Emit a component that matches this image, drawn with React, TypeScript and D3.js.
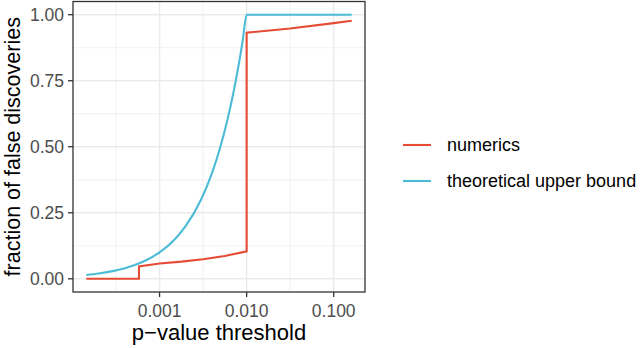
import React from 'react';
import * as d3 from 'd3';

const width = 640;
const height = 348;
const panel = { left: 73, top: 1.5, right: 365, bottom: 292 };

// p-value thresholds and fractions
const numericsP = [0.000144, 0.00058, 0.00058, 0.001, 0.00178, 0.00316, 0.0056, 0.01, 0.01, 0.0316, 0.1, 0.161];
const numericsV = [0, 0, 0.047, 0.058, 0.065, 0.074, 0.086, 0.104, 0.932, 0.948, 0.968, 0.977];

const boundP = [0.000144, 0.0002, 0.0003, 0.0004, 0.0005, 0.0007, 0.001, 0.0015, 0.002, 0.003, 0.004, 0.005, 0.006, 0.007, 0.008, 0.009, 0.01, 0.161];
const boundV = [0.0144, 0.02, 0.03, 0.04, 0.05, 0.07, 0.1, 0.15, 0.2, 0.3, 0.4, 0.5, 0.6, 0.7, 0.8, 0.9, 1, 1];

const seriesNames = ['numerics', 'theoretical upper bound'];
const colors = ['#E64B35', '#4DBBD5'];

const xTicks = [0.001, 0.01, 0.1];
const xTickLabels = ['0.001', '0.010', '0.100'];
const xMinor = [0.000316, 0.00316, 0.0316];
const yTicks = [0, 0.25, 0.5, 0.75, 1];
const yTickLabels = ['0.00', '0.25', '0.50', '0.75', '1.00'];
const yMinor = [0.125, 0.375, 0.625, 0.875];

const font = '"Liberation Sans", Arial, sans-serif';

const pw = panel.right - panel.left;
const ph = panel.bottom - panel.top;
const xPad = (pw * 0.05) / 1.1;
const yPad = (ph * 0.05) / 1.1;

const x = d3
  .scaleLog()
  .domain([0.000144, 0.161])
  .range([panel.left + xPad, panel.right - xPad]);

const y = d3
  .scaleLinear()
  .domain([0, 1])
  .range([panel.bottom - yPad, panel.top + yPad]);

const line = d3
  .line<[number, number]>()
  .x(d => x(d[0]))
  .y(d => y(d[1]));

const smooth = d3
  .line<[number, number]>()
  .x(d => x(d[0]))
  .y(d => y(d[1]))
  .curve(d3.curveMonotoneX);

const numerics = numericsP.map((p, i) => [p, numericsV[i]] as [number, number]);
const bound = boundP.map((p, i) => [p, boundV[i]] as [number, number]);

const App = () => {
  return (
    <svg width={width} height={height} style={{ display: 'block', position: 'absolute', left: 0, top: 0 }}>
      <rect x={0} y={0} width={width} height={height} fill="#fff" />
      {/* grid */}
      {yMinor.map(v => (
        <line key={'ym' + v} x1={panel.left} x2={panel.right} y1={y(v)} y2={y(v)} stroke="#EBEBEB" strokeWidth={0.7} />
      ))}
      {xMinor.map(v => (
        <line key={'xm' + v} x1={x(v)} x2={x(v)} y1={panel.top} y2={panel.bottom} stroke="#EBEBEB" strokeWidth={0.7} />
      ))}
      {yTicks.map(v => (
        <line key={'yg' + v} x1={panel.left} x2={panel.right} y1={y(v)} y2={y(v)} stroke="#EBEBEB" strokeWidth={1.4} />
      ))}
      {xTicks.map(v => (
        <line key={'xg' + v} x1={x(v)} x2={x(v)} y1={panel.top} y2={panel.bottom} stroke="#EBEBEB" strokeWidth={1.4} />
      ))}

      {/* data */}
      <path d={smooth(bound) || ''} fill="none" stroke={colors[1]} strokeWidth={2.1} />
      <path d={line(numerics) || ''} fill="none" stroke={colors[0]} strokeWidth={2.1} />

      {/* border */}
      <rect x={panel.left} y={panel.top} width={pw} height={ph} fill="none" stroke="#333333" strokeWidth={1.3} />

      {/* y axis */}
      {yTicks.map((v, i) => (
        <g key={'yt' + v}>
          <line x1={panel.left - 5} x2={panel.left} y1={y(v)} y2={y(v)} stroke="#333333" strokeWidth={1.3} />
          <text x={panel.left - 9} y={y(v)} dy="0.36em" textAnchor="end" fontFamily={font} fontSize={17.5} fill="#4D4D4D">
            {yTickLabels[i]}
          </text>
        </g>
      ))}
      {/* x axis */}
      {xTicks.map((v, i) => (
        <g key={'xt' + v}>
          <line x1={x(v)} x2={x(v)} y1={panel.bottom} y2={panel.bottom + 5} stroke="#333333" strokeWidth={1.3} />
          <text x={x(v)} y={panel.bottom + 25} textAnchor="middle" fontFamily={font} fontSize={17.5} fill="#4D4D4D">
            {xTickLabels[i]}
          </text>
        </g>
      ))}

      <text x={(panel.left + panel.right) / 2} y={340} textAnchor="middle" fontFamily={font} fontSize={22} fill="#000">
        p−value threshold
      </text>
      <text
        transform={`translate(20,${(panel.top + panel.bottom) / 2}) rotate(-90)`}
        textAnchor="middle"
        fontFamily={font}
        fontSize={21.5}
        fill="#000"
      >
        fraction of false discoveries
      </text>

      {/* legend */}
      {seriesNames.map((name, i) => (
        <g key={name} transform={`translate(0,${145 + i * 36})`}>
          <line x1={403} x2={431} y1={0} y2={0} stroke={colors[i]} strokeWidth={2.1} />
          <text x={447} y={0} dy="0.36em" fontFamily={font} fontSize={18} fill="#000">
            {name}
          </text>
        </g>
      ))}
    </svg>
  );
};

export default App;
